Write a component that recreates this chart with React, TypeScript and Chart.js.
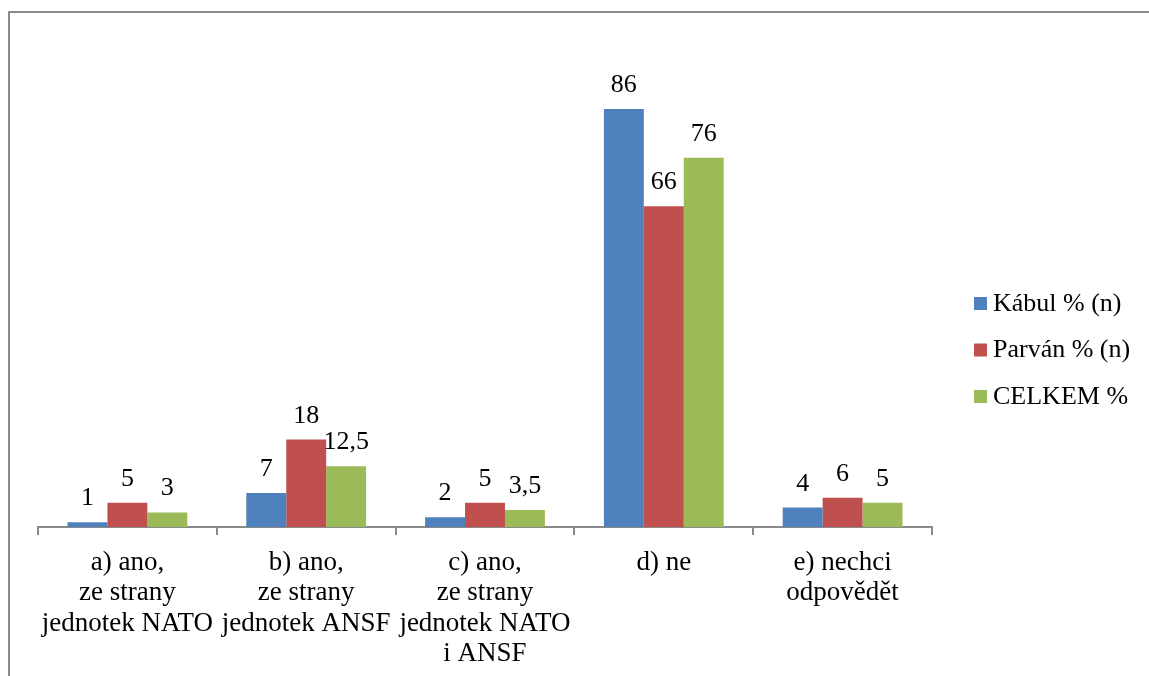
import React, { useEffect, useRef } from "react";
import { Chart, registerables } from "chart.js";

Chart.register(...registerables);

const categories: string[][] = [
  ["a) ano,", "ze strany", "jednotek NATO"],
  ["b) ano,", "ze strany", "jednotek ANSF"],
  ["c) ano,", "ze strany", "jednotek NATO", "i ANSF"],
  ["d) ne"],
  ["e) nechci", "odpovědět"],
];

const seriesNames = ["Kábul % (n)", "Parván % (n)", "CELKEM %"];
const kabul = [1, 7, 2, 86, 4];
const parvan = [5, 18, 5, 66, 6];
const celkem = [3, 12.5, 3.5, 76, 5];
const colors = ["#4F81BD", "#C0504D", "#9BBB59"];

const FONT = "'Liberation Serif', 'Times New Roman', serif";

const dataLabels = {
  id: "dataLabels",
  afterDatasetsDraw(chart: any) {
    const ctx = chart.ctx;
    ctx.save();
    ctx.font = `26px ${FONT}`;
    ctx.fillStyle = "#000";
    ctx.textAlign = "center";
    ctx.textBaseline = "alphabetic";
    chart.data.datasets.forEach((ds: any, i: number) => {
      const meta = chart.getDatasetMeta(i);
      meta.data.forEach((bar: any, j: number) => {
        const v = ds.data[j];
        const txt = String(v).replace(".", ",");
        ctx.fillText(txt, bar.x, bar.y - 17);
      });
    });
    ctx.restore();
  },
};

const customLegend = {
  id: "customLegend",
  afterDraw(chart: any) {
    const ctx = chart.ctx;
    ctx.save();
    ctx.font = `26px ${FONT}`;
    ctx.textBaseline = "middle";
    ctx.textAlign = "left";
    const x0 = 974;
    const yStart = 303;
    const step = 46.5;
    chart.data.datasets.forEach((ds: any, i: number) => {
      const y = yStart + i * step;
      ctx.fillStyle = ds.backgroundColor;
      ctx.fillRect(x0, y - 6, 13, 13);
      ctx.fillStyle = "#000";
      ctx.fillText(ds.label, x0 + 19, y + 1);
    });
    ctx.restore();
  },
};

export default function App() {
  const ref = useRef<HTMLCanvasElement | null>(null);
  useEffect(() => {
    if (!ref.current) return;
    const chart = new Chart(ref.current, {
      type: "bar",
      data: {
        labels: categories,
        datasets: [
          { label: seriesNames[0], data: kabul, backgroundColor: colors[0] },
          { label: seriesNames[1], data: parvan, backgroundColor: colors[1] },
          { label: seriesNames[2], data: celkem, backgroundColor: colors[2] },
        ],
      },
      options: {
        animation: false,
        responsive: false,
        devicePixelRatio: 1,
        layout: { padding: { left: 38, right: 217, top: 41, bottom: 0 } },
        datasets: {
          bar: { categoryPercentage: 0.67, barPercentage: 1 },
        } as any,
        plugins: {
          legend: { display: false },
          tooltip: { enabled: false },
        },
        scales: {
          y: { display: false, min: 0, max: 100 },
          x: {
            afterFit: (scale: any) => {
              scale.height = 149;
            },
            grid: {
              display: true,
              drawOnChartArea: false,
              drawTicks: true,
              tickLength: 8,
              color: "#8a8a8a",
              lineWidth: 2,
            },
            border: { display: true, color: "#8a8a8a", width: 2 },
            ticks: {
              color: "#000",
              font: { family: FONT, size: 27, lineHeight: 1.12 },
              maxRotation: 0,
              minRotation: 0,
              autoSkip: false,
              padding: 13,
            },
          },
        },
      },
      plugins: [dataLabels, customLegend],
    });
    return () => chart.destroy();
  }, []);

  return (
    <div style={{ position: "fixed", left: 0, top: 0, width: 1149, height: 676, overflow: "hidden", background: "#fff" }}>
      <div
        style={{
          position: "absolute",
          left: 8,
          top: 11,
          width: 2000,
          height: 2000,
          border: "2px solid #8a8a8a",
          boxSizing: "border-box",
        }}
      />
      <canvas ref={ref} width={1149} height={676} style={{ position: "absolute", left: 0, top: 0 }} />
    </div>
  );
}
